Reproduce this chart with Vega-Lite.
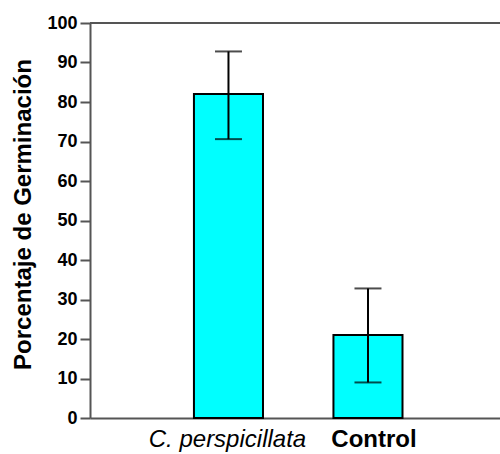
{
  "$schema": "https://vega.github.io/schema/vega-lite/v6.json",
  "autosize": "none",
  "width": 410,
  "height": 395,
  "padding": {"left": 90, "top": 23, "right": 0, "bottom": 36},
  "background": "white",
  "config": {"view": {"stroke": null}, "font": "Liberation Sans"},
  "resolve": {"axis": {"y": "independent"}, "scale": {"y": "shared"}},
  "data": {"values": [
    {"group": "C. perspicillata", "mean": 82, "lo": 70.6, "hi": 92.8},
    {"group": "Control", "mean": 21, "lo": 9, "hi": 32.8}
  ]},
  "encoding": {
    "x": {
      "field": "group", "type": "nominal", "sort": null,
      "scale": {"paddingInner": 0.505, "paddingOuter": 0.722, "align": 0.516},
      "axis": {
        "title": null, "labelAngle": 0, "ticks": false,
        "domainColor": "#555", "domainWidth": 2,
        "labelFont": "Liberation Sans", "labelFontSize": 24, "labelColor": "#000",
        "labelPadding": 9,
        "labelOffset": {"condition": {"test": "datum.label == 'Control'", "value": 6}, "value": -1},
        "labelFontStyle": {"condition": {"test": "datum.label == 'C. perspicillata'", "value": "italic"}, "value": "normal"},
        "labelFontWeight": {"condition": {"test": "datum.label == 'Control'", "value": "bold"}, "value": "normal"}
      }
    }
  },
  "layer": [
    {
      "mark": {"type": "bar", "fill": "#00FFFF", "stroke": "#000", "strokeWidth": 2},
      "encoding": {
        "y": {
          "field": "mean", "type": "quantitative",
          "scale": {"domain": [0, 100], "nice": false},
          "axis": {
            "values": [0, 10, 20, 30, 40, 50, 60, 70, 80, 90, 100],
            "labelOverlap": false,
            "grid": false, "domainColor": "#555", "domainWidth": 2,
            "tickColor": "#555", "tickWidth": 2, "tickSize": 10,
            "labelFont": "Liberation Sans", "labelFontSize": 18, "labelFontWeight": "bold",
            "labelColor": "#000", "labelPadding": 3,
            "title": "Porcentaje de Germinación",
            "titleFont": "Liberation Sans", "titleFontSize": 24, "titleFontWeight": "bold",
            "titleColor": "#000", "titleX": -67, "titleY": 191,
            "titleAlign": "center", "titleBaseline": "middle", "titleAngle": -90
          }
        }
      }
    },
    {
      "mark": {"type": "rule", "color": "#555", "strokeWidth": 2},
      "encoding": {"x": null, "y": {"datum": 100, "type": "quantitative", "axis": null}}
    },
    {
      "mark": {"type": "rule", "color": "#000", "strokeWidth": 2},
      "encoding": {"y": {"field": "lo", "type": "quantitative", "axis": null}, "y2": {"field": "hi"}}
    },
    {
      "mark": {"type": "tick", "color": "#000", "thickness": 2, "size": 27},
      "encoding": {"y": {"field": "hi", "type": "quantitative", "axis": null}}
    },
    {
      "mark": {"type": "tick", "color": "#000", "thickness": 2, "size": 27},
      "encoding": {"y": {"field": "lo", "type": "quantitative", "axis": null}}
    }
  ]
}
